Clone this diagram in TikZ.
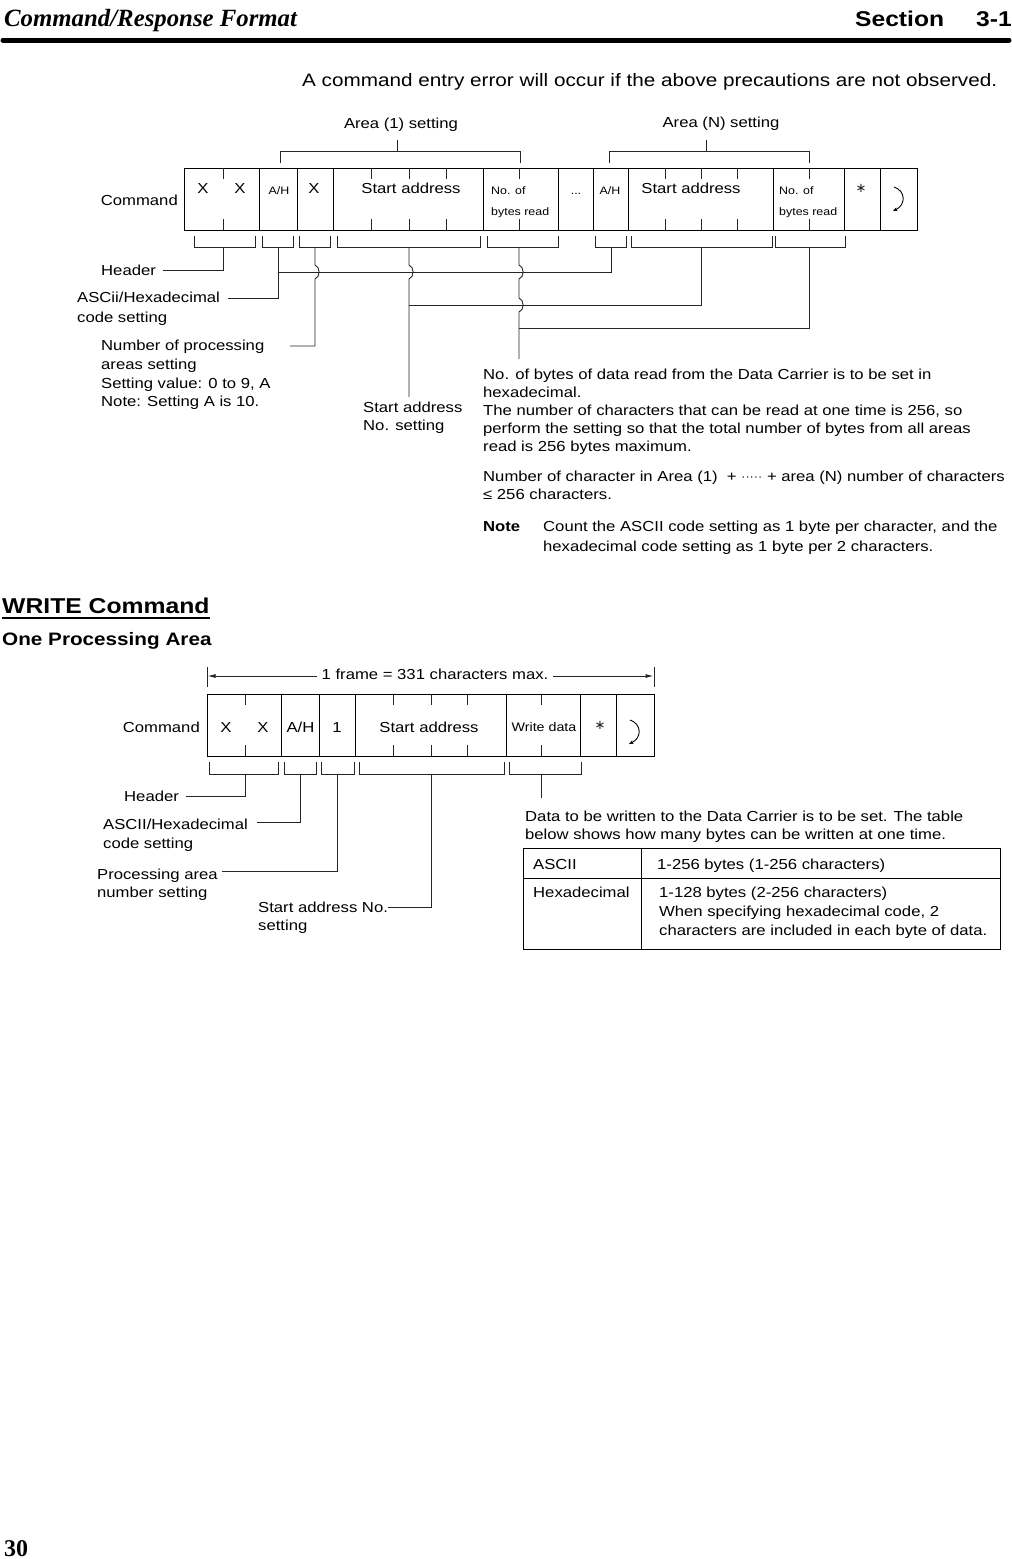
\documentclass[tikz,border=0pt]{standalone}
\usepackage{fontspec}
\setmainfont{Liberation Sans}[FakeStretch=1.15]
\newfontfamily\serifhd{Liberation Serif}
\newfontfamily\djv{DejaVu Sans}
\usetikzlibrary{arrows.meta}
\tikzset{
  ln/.style={line width=0.9pt, draw=black!85},
  cellbox/.style={line width=1pt, draw=black},
  txt/.style={anchor=base west, inner sep=0pt, font=\fontsize{14.5}{18}\selectfont},
  ctr/.style={anchor=base, inner sep=0pt, font=\fontsize{14.5}{18}\selectfont},
  rgt/.style={anchor=base east, inner sep=0pt, font=\fontsize{14.5}{18}\selectfont},
  smallw/.style={anchor=base west, inner sep=0pt, font=\fontsize{10.8}{13}\selectfont},
  smallc/.style={anchor=base, inner sep=0pt, font=\fontsize{10.8}{13}\selectfont},
  astk/.style={anchor=base, inner sep=0pt, font=\djv\fontsize{13}{16}\selectfont, text=black!85},
  retarrow/.style={line width=0.9pt, -{Stealth[length=4.5pt,width=4pt]}},
}
\begin{document}
\begin{tikzpicture}[x=1pt,y=-1pt]
\path[use as bounding box, fill=white] (0,0) rectangle (1012,1559);

% ---------- page header ----------
\node[anchor=base west, inner sep=0pt, font=\serifhd\bfseries\itshape\fontsize{24.8}{28}\selectfont] (hdl) at (4,26) {Command/Response Format};
\node[anchor=base west, inner sep=0pt, font=\bfseries\fontsize{21.4}{26}\selectfont] (hds) at (855,26) {Section};
\node[anchor=base west, inner sep=0pt, font=\bfseries\fontsize{21.4}{26}\selectfont] (hdn) at (976,26) {3-1};
\draw[line width=5pt, line cap=round] (3,40) -- (1009,40);
\node[anchor=base west, inner sep=0pt, font=\fontsize{18}{22}\selectfont] (intro) at (302,86) {A command entry error will occur if the above precautions are not observed.};

% ---------- READ command diagram ----------
\node[rgt] (cmd1) at (178,205) {Command};
\draw[cellbox] (184,168) rectangle (917,230);
\foreach \x in {259,297,333,483,558,593,628,773,844,880}
  \draw[cellbox] (\x,168) -- (\x,230);
\foreach \x in {223,371,409,446,519,665,701,737,809} {
  \draw[ln] (\x,168) -- (\x,179);
  \draw[ln] (\x,219) -- (\x,230);
}
\node[ctr] (c1) at (203,193) {X};
\node[ctr] (c2) at (240,193) {X};
\node[smallc] (c3) at (279,194) {A/H};
\node[ctr] (c4) at (314,193) {X};
\node[ctr] (c5) at (411,193) {Start address};
\node[smallw] (c6a) at (491,194) {No. of};
\node[smallw] (c6b) at (491,215) {bytes read};
\node[smallc] (c7) at (576,194) {...};
\node[smallc] (c8) at (610,194) {A/H};
\node[ctr] (c9) at (691,193) {Start address};
\node[smallw] (c10a) at (779,194) {No. of};
\node[smallw] (c10b) at (779,215) {bytes read};
\node[astk] (c11) at (861,192) {∗};
\draw[retarrow] (894,187) .. controls (906,191) and (906,205) .. (893,211);

% area brackets
\node[ctr] (area1) at (401,128) {Area (1) setting};
\node[ctr] (areaN) at (721,127) {Area (N) setting};
\draw[ln] (280,163) -- (280,151) -- (520,151) -- (520,163);
\draw[ln] (397,151) -- (397,140);
\draw[ln] (609,163) -- (609,151) -- (809,151) -- (809,163);
\draw[ln] (706,151) -- (706,140);

% brackets under the command
\foreach \a/\b in {194/255, 262/293, 299/330, 337/480, 487/558, 595/626, 631/772, 775/845}
  \draw[ln] (\a,236) -- (\a,247) -- (\b,247) -- (\b,236);

% connectors
\node[txt] (hdr1) at (101,275) {Header};
\draw[ln] (223,247) -- (223,270) -- (163,270);
\node[txt] (asc1a) at (77,302) {ASCii/Hexadecimal};
\node[txt] (asc1b) at (77,322) {code setting};
\draw[ln] (278,247) -- (278,298) -- (228,298);
\draw[ln] (611,247) -- (611,272) -- (278,272);
\node[txt] (np1) at (101,350) {Number of processing};
\node[txt] (np2) at (101,369) {areas setting};
\node[txt] (np3) at (101,388) {Setting value: 0 to 9, A};
\node[txt] (np4) at (101,406) {Note: Setting A is 10.};
\draw[ln] (315,247) -- (315,265) .. controls (320.5,267) and (320.5,277) .. (315,279) -- (315,346) -- (290,346);
\node[txt] (sa1) at (363,412) {Start address};
\node[txt] (sa2) at (363,430) {No. setting};
\draw[ln] (409,247) -- (409,265) .. controls (414.5,267) and (414.5,277) .. (409,279) -- (409,397);
\draw[ln] (701,247) -- (701,305) -- (409,305);
\draw[ln] (519,247) -- (519,265) .. controls (524.5,267) and (524.5,277) .. (519,279)
  -- (519,298) .. controls (524.5,300) and (524.5,310) .. (519,312) -- (519,359);
\draw[ln] (809,247) -- (809,328) -- (519,328);

% explanation text
\node[txt] (b1) at (483,379) {No. of bytes of data read from the Data Carrier is to be set in};
\node[txt] (b2) at (483,397) {hexadecimal.};
\node[txt] (b3) at (483,415) {The number of characters that can be read at one time is 256, so};
\node[txt] (b4) at (483,433) {perform the setting so that the total number of bytes from all areas};
\node[txt] (b5) at (483,451) {read is 256 bytes maximum.};
\node[txt] (b6) at (483,481) {Number of character in Area (1) \ + {\fontsize{11}{12}\selectfont\raisebox{0.6pt}{·····}} + area (N) number of characters};
\node[txt] (b7) at (483,499) {≤ 256 characters.};
\node[txt, font=\bfseries\fontsize{14.5}{18}\selectfont] (nt) at (483,531) {Note};
\node[txt] (n1) at (543,531) {Count the ASCII code setting as 1 byte per character, and the};
\node[txt] (n2) at (543,551) {hexadecimal code setting as 1 byte per 2 characters.};

% ---------- WRITE command ----------
\node[anchor=base west, inner sep=0pt, font=\bfseries\fontsize{21.5}{26}\selectfont] (wc) at (2,613) {WRITE Command};
\draw[line width=1.5pt] (2,618) -- (210,618);
\node[anchor=base west, inner sep=0pt, font=\bfseries\fontsize{18}{22}\selectfont] (opa) at (2,645) {One Processing Area};

% frame arrow
\draw[ln] (207,667) -- (207,687);
\draw[ln] (654,667) -- (654,687);
\draw[ln, {Latex[length=8pt,width=4pt]}-{Latex[length=8pt,width=4pt]}] (207.5,676) -- (653.5,676);
\node[fill=white, inner xsep=5pt, inner ysep=2pt, font=\fontsize{14.5}{18}\selectfont] (frm) at (435,674) {1 frame = 331 characters max.};

\node[rgt] (cmd2) at (200,732) {Command};
\draw[cellbox] (207,694) rectangle (654,756);
\foreach \x in {281.5,319.6,355.6,506,580.7,616}
  \draw[cellbox] (\x,694) -- (\x,756);
\foreach \x in {245.5,393.7,431.5,467.8,541.8} {
  \draw[ln] (\x,694) -- (\x,705);
  \draw[ln] (\x,745) -- (\x,756);
}
\node[ctr] (w1) at (226,732) {X};
\node[ctr] (w2) at (263,732) {X};
\node[ctr] (w3) at (300.5,732) {A/H};
\node[ctr] (w4) at (337,732) {1};
\node[ctr] (w5) at (429,732) {Start address};
\node[anchor=base, inner sep=0pt, font=\fontsize{12.4}{15}\selectfont] (w6) at (544,731) {Write data};
\node[astk] (w7) at (600,729) {∗};
\draw[retarrow] (630,720) .. controls (642,724) and (642,738) .. (629,744);

\foreach \a/\b in {209/278, 284/316, 321.5/354, 359.6/504, 509.6/581}
  \draw[ln] (\a,762) -- (\a,774) -- (\b,774) -- (\b,762);

\node[txt] (hdr2) at (124,801) {Header};
\draw[ln] (245.5,774) -- (245.5,796) -- (186,796);
\node[txt] (asc2a) at (103,829) {ASCII/Hexadecimal};
\node[txt] (asc2b) at (103,848) {code setting};
\draw[ln] (300,774) -- (300,822) -- (257,822);
\node[txt] (pa1) at (97,879) {Processing area};
\node[txt] (pa2) at (97,897) {number setting};
\draw[ln] (337.4,774) -- (337.4,871) -- (222,871);
\node[txt] (sn1) at (258,912) {Start address No.};
\node[txt] (sn2) at (258,930) {setting};
\draw[ln] (431.5,774) -- (431.5,907) -- (388,907);
\draw[ln] (541.8,774) -- (541.8,798);

\node[txt] (d1) at (525,821) {Data to be written to the Data Carrier is to be set. The table};
\node[txt] (d2) at (525,839) {below shows how many bytes can be written at one time.};

% table
\draw[cellbox] (523,848) rectangle (1000,949);
\draw[cellbox] (523,878) -- (1000,878);
\draw[cellbox] (641.7,848) -- (641.7,949);
\node[txt] (t1) at (533,869) {ASCII};
\node[txt] (t2) at (657,869) {1-256 bytes (1-256 characters)};
\node[txt] (t3) at (533,897) {Hexadecimal};
\node[txt] (t4) at (659,897) {1-128 bytes (2-256 characters)};
\node[txt] (t5) at (659,916) {When specifying hexadecimal code, 2};
\node[txt] (t6) at (659,935) {characters are included in each byte of data.};

% page number
\node[anchor=base west, inner sep=0pt, font=\serifhd\bfseries\fontsize{24}{28}\selectfont] (pg) at (4,1556) {30};
\end{tikzpicture}
\end{document}
